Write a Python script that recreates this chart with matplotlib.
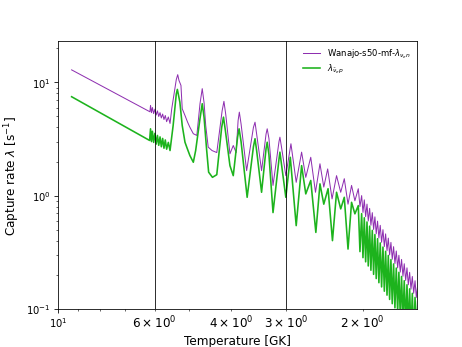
import matplotlib
matplotlib.use('Agg')
import matplotlib.pyplot as plt

plt.rcParams['font.size'] = 12

# Wanajo-s50-mf nu_e n capture rate (purple)
temp_n = [9.30, 6.15, 6.13, 6.10, 6.07, 6.03, 5.99, 5.95, 5.91, 5.87, 5.83, 5.79, 5.75,
          5.71, 5.67, 5.63, 5.58, 5.53, 5.48, 5.35, 5.31, 5.275, 5.22, 5.185, 5.11, 5.04, 4.98,
          4.89, 4.80, 4.72, 4.665, 4.62, 4.58, 4.52, 4.43, 4.32, 4.20, 4.16, 4.12, 4.03, 3.96,
          3.90, 3.86, 3.835, 3.80, 3.69, 3.56, 3.53, 3.50, 3.41, 3.33, 3.31, 3.28, 3.21,
          3.11, 3.095, 3.07, 3.00, 2.92, 2.84, 2.76, 2.70, 2.63, 2.565, 2.505,
          2.455, 2.405, 2.35, 2.295, 2.245, 2.203, 2.16, 2.12, 2.083, 2.046, 2.028,
          2.010, 1.996, 1.982, 1.968, 1.954, 1.941, 1.927, 1.914, 1.900, 1.887, 1.874,
          1.861, 1.848, 1.835, 1.822, 1.809, 1.796, 1.783, 1.771, 1.758, 1.746, 1.734,
          1.722, 1.710, 1.698, 1.686, 1.674, 1.662, 1.651, 1.639, 1.628, 1.616, 1.605,
          1.593, 1.582, 1.571, 1.560, 1.549, 1.538, 1.527, 1.516, 1.506, 1.495]
rate_n = [12.9, 5.5, 6.26, 5.4, 6.0, 5.3, 5.8, 5.15, 5.6, 5.0, 5.4, 4.85, 5.25,
          4.7, 5.1, 4.5, 4.95, 4.34, 5.85, 10.6, 11.7, 10.4, 9.41, 5.85, 5.10, 4.45, 4.02,
          3.52, 3.40, 6.5, 8.80, 6.6, 4.16, 2.68, 2.50, 2.40, 5.6, 6.80, 5.2, 2.34, 2.77,
          2.40, 4.6, 5.46, 4.3, 1.66, 4.0, 4.45, 3.5, 1.66, 3.5, 3.89, 3.2, 1.23,
          3.0, 3.28, 2.7, 1.50, 2.87, 1.31, 2.42, 1.45, 2.18, 1.07, 1.91,
          1.19, 1.72, 0.935, 1.50, 1.07, 1.41, 0.84, 1.23, 0.90, 1.15, 0.80,
          1.00, 0.710, 0.917, 0.651, 0.841, 0.597, 0.771, 0.547, 0.707, 0.502, 0.649,
          0.460, 0.595, 0.422, 0.546, 0.387, 0.500, 0.355, 0.459, 0.326, 0.421, 0.299,
          0.386, 0.274, 0.354, 0.251, 0.324, 0.230, 0.297, 0.211, 0.273, 0.194, 0.250,
          0.178, 0.230, 0.163, 0.210, 0.149, 0.193, 0.137, 0.177, 0.126, 0.162]

# anti-nu_e p capture rate (green)
temp_p = [9.30, 6.16, 6.13, 6.10, 6.07, 6.03, 5.99, 5.95, 5.91, 5.87, 5.83, 5.79, 5.75,
          5.71, 5.67, 5.63, 5.58, 5.53, 5.44, 5.35, 5.32, 5.25, 5.185, 5.11, 5.05, 4.98, 4.89,
          4.83, 4.72, 4.665, 4.62, 4.56, 4.51, 4.42, 4.32, 4.21, 4.17, 4.13, 4.03, 3.96,
          3.87, 3.84, 3.80, 3.68, 3.56, 3.53, 3.50, 3.41, 3.33, 3.31, 3.28, 3.21,
          3.11, 3.095, 3.07, 3.00, 2.93, 2.84, 2.76, 2.70, 2.63, 2.56, 2.505, 2.455, 2.40,
          2.345, 2.295, 2.245, 2.203, 2.16, 2.12, 2.083, 2.046, 2.028,
          2.010, 1.996, 1.982, 1.968, 1.954, 1.941, 1.927, 1.914, 1.900, 1.887, 1.874,
          1.861, 1.848, 1.835, 1.822, 1.809, 1.796, 1.783, 1.771, 1.758, 1.746, 1.734,
          1.722, 1.710, 1.698, 1.686, 1.674, 1.662, 1.651, 1.639, 1.628, 1.616, 1.605,
          1.593, 1.582, 1.571, 1.560, 1.549, 1.538, 1.527, 1.516, 1.506, 1.495]
rate_p = [7.47, 3.07, 3.89, 3.0, 3.7, 2.95, 3.55, 2.85, 3.4, 2.78, 3.3, 2.7, 3.2,
          2.62, 3.1, 2.57, 2.95, 2.50, 4.16, 7.9, 8.67, 6.69, 4.16, 2.96, 2.61, 2.26, 1.97,
          2.50, 4.8, 6.48, 4.9, 2.59, 1.61, 1.45, 1.53, 4.0, 4.93, 3.8, 1.84, 1.50,
          3.3, 3.89, 3.0, 0.966, 2.7, 3.18, 2.5, 1.07, 2.6, 2.96, 2.3, 0.708,
          2.1, 2.42, 1.9, 0.966, 2.18, 0.543, 1.84, 1.035, 1.36, 0.473, 1.27, 0.84, 1.15,
          0.40, 1.07, 0.763, 0.966, 0.337, 0.872, 0.69, 0.816, 0.32,
          0.693, 0.283, 0.637, 0.260, 0.585, 0.239, 0.537, 0.219, 0.493, 0.2015, 0.453,
          0.185, 0.416, 0.170, 0.382, 0.156, 0.351, 0.143, 0.322, 0.132, 0.296, 0.121,
          0.272, 0.111, 0.249, 0.102, 0.229, 0.0937, 0.210, 0.086, 0.193, 0.079, 0.177,
          0.0725, 0.163, 0.0666, 0.150, 0.0612, 0.137, 0.0562, 0.126, 0.0516, 0.116]

vlines_T = [6.0, 3.0]

fig, ax = plt.subplots(figsize=(6.4, 4.8), dpi=72.34)
ax.plot(temp_n, rate_n, color='#8e2fb0', lw=1.0, label=r'Wanajo-s50-mf-$\lambda_{\nu_e n}$')
ax.plot(temp_p, rate_p, color='#1db31d', lw=1.6, label=r'$\lambda_{\bar{\nu}_e p}$')
for t in vlines_T:
    ax.axvline(t, color='k', lw=0.8)

ax.set_xscale('log')
ax.set_yscale('log')
ax.set_xlim(10, 1.503)
ax.set_ylim(0.1, 23)
ax.tick_params(labelsize=10)
ax.set_xlabel('Temperature [GK]')
ax.set_ylabel(r'Capture rate $\lambda$ [s$^{-1}$]')
ax.legend(loc='upper right', frameon=False, fontsize=8.5, labelspacing=0.2,
          borderaxespad=0.3)

plt.savefig('out.png', dpi=72.34)
